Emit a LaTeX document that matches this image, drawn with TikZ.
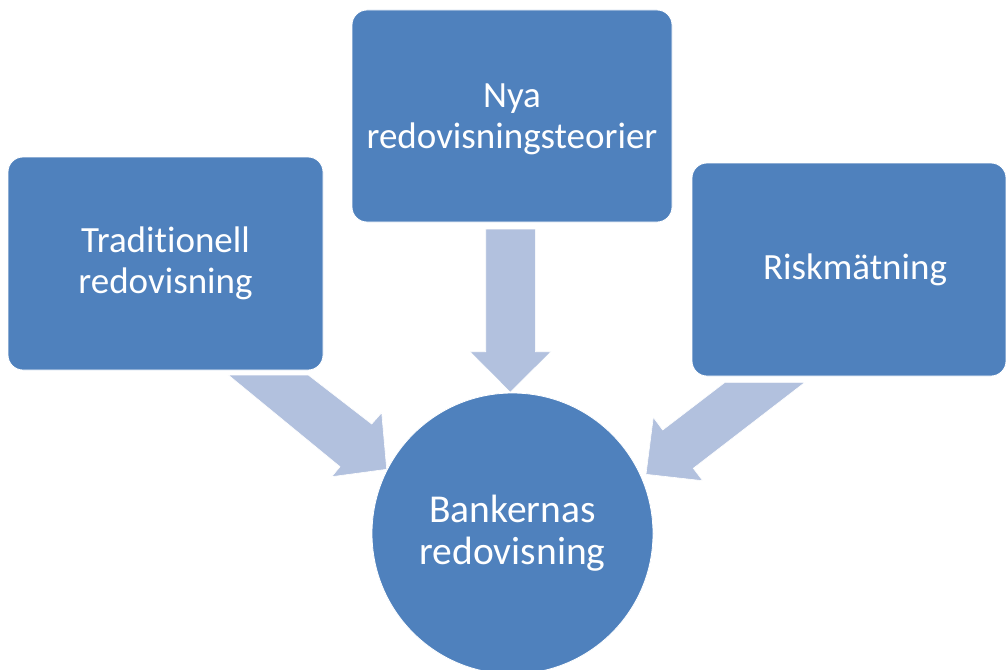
\documentclass[tikz,border=0pt]{standalone}
\usepackage{fontspec}
\setmainfont{Carlito}[Ligatures=NoCommon]
\definecolor{boxblue}{HTML}{4F81BD}
\definecolor{arrowblue}{HTML}{B2C1DE}
\begin{document}
\begin{tikzpicture}[x=1pt,y=-1pt,
  txt/.style={text=white,align=center,font=\fontsize{37}{41}\selectfont,inner sep=0pt},
  box/.style={txt,fill=boxblue,draw=white,line width=0.8pt,rounded corners=15pt},
  blockarrow/.style={fill=arrowblue,draw=white,line width=0.6pt}]
\clip (0,0) rectangle (1006,669);
\fill[white] (0,0) rectangle (1006,669);
% block arrows
\draw[blockarrow] (485.7,229) -- (535.3,229) -- (535.3,351.7) -- (551,351.7) -- (510.3,392.3) -- (470,351.7) -- (485.7,351.7) -- cycle;
\draw[blockarrow] (228.3,375) -- (308.3,375) -- (371.7,424) -- (381.7,412.7) -- (386.7,469.3) -- (331.7,476.7) -- (340,466.7) -- cycle;
\draw[blockarrow] (805,382.3) -- (725,382.3) -- (662.7,430) -- (653.3,417.3) -- (646,474.3) -- (702.7,480.7) -- (693.3,468.3) -- cycle;
% boxes
\node[box,minimum width=315pt,minimum height=213pt] (trad) at (165.5,263.5) {Traditionell\\redovisning};
\node[box,minimum width=320pt,minimum height=212pt] (nya) at (512,116) {};
\node[txt] (nyatxt) at (512,119.5) {Nya\\redovisningsteorier};
\node[box,minimum width=314pt,minimum height=213pt] (risk) at (849,269.5) {};
\node[txt] (risktxt) at (855,269.5) {Riskmätning};
\node[txt,circle,fill=boxblue,draw=white,line width=0.8pt,minimum size=281pt,font=\fontsize{39.5}{42}\selectfont] (bank) at (512.5,533.5) {Bankernas\\redovisning};
\end{tikzpicture}
\end{document}
